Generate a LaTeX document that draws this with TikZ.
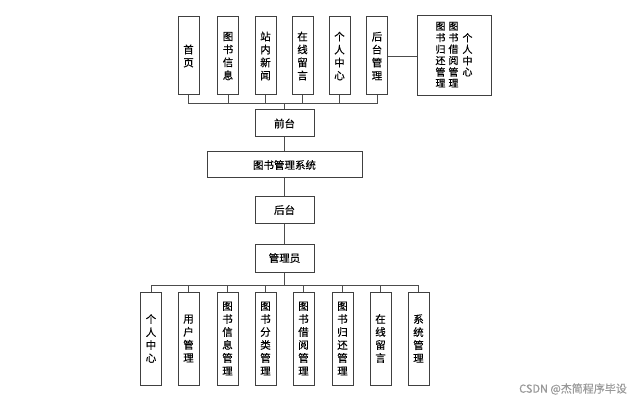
\documentclass[tikz,border=0pt]{standalone}
\usepackage{fontspec}
\setmainfont{Noto Sans CJK SC}[FakeBold=0.4]
\newcommand{\vcol}[1]{\begin{tabular}[c]{@{}c@{}}#1\end{tabular}}

\begin{document}
\begin{tikzpicture}[x=1pt,y=-1pt,
    box/.style={draw=black!75,line width=1pt,fill=white,inner sep=0pt,align=center,font=\fontsize{10.5}{13}\selectfont},
    col/.style={box,minimum width=21pt,minimum height=78pt},
    wide/.style={box,minimum width=59pt,minimum height=27pt},
    link/.style={draw=black!70,line width=0.8pt}]
    \useasboundingbox[fill=white] (0,0) rectangle (635,401);

    % front end
    \foreach \i/\x/\t in {1/188.5/{首\\页}, 2/228/{图\\书\\信\\息}, 3/265.5/{站\\内\\新\\闻},
      4/302.5/{在\\线\\留\\言}, 5/339.5/{个\\人\\中\\心}, 6/377/{后\\台\\管\\理}}
      \node[col] (t\i) at (\x,56) {\t};
    \node[box,minimum width=74pt,minimum height=80pt,font=\fontsize{10}{10.4}\selectfont] (ext) at (454,56)
      {\vcol{图\\书\\归\\还\\管\\理}\hspace{3pt}\vcol{图\\书\\借\\阅\\管\\理}\hspace{4pt}\vcol{个\\人\\中\\心}};

    \node[wide] (front) at (284.5,123.5) {前台};
    \node[box,minimum width=155pt,minimum height=26pt] (sys) at (284.5,165) {图书管理系统};
    \node[wide] (back) at (284.5,210) {后台};
    \node[wide,minimum height=28pt] (admin) at (284.5,258) {管理员};

    % back end
    \foreach \i/\x/\t in {1/151/{个\\人\\中\\心}, 2/188.5/{用\\户\\管\\理}, 3/227.5/{图\\书\\信\\息\\管\\理},
      4/265.5/{图\\书\\分\\类\\管\\理}, 5/303.5/{图\\书\\借\\阅\\管\\理}, 6/342.5/{图\\书\\归\\还\\管\\理},
      7/380.5/{在\\线\\留\\言}, 8/418.5/{系\\统\\管\\理}}
      \node[col,minimum height=93pt] (b\i) at (\x,338.5) {\t};

    \foreach \i in {1,...,6}
      \draw[link] (t\i.south) -- ++(0,8) -| (front.north);
    \draw[link] (t6.east) -- (ext.west);
    \draw[link] (front) -- (sys) (sys) -- (back) (back) -- (admin);
    \foreach \i in {1,...,8}
      \draw[link] (admin.south) -- ++(0,13) -| (b\i.north);

    \node[text=black!40,font=\fontsize{11}{13}\selectfont] (mark) at (573,389) {CSDN @杰简程序毕设};
  \end{tikzpicture}
\end{document}
